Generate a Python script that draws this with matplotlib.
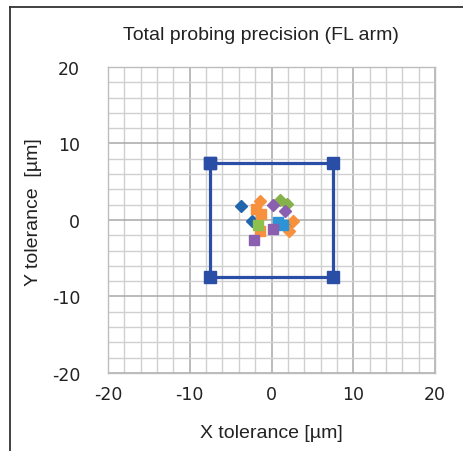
import numpy as np
import matplotlib
matplotlib.use("Agg")
import matplotlib.pyplot as plt
from matplotlib.lines import Line2D

plt.rcParams['axes.unicode_minus'] = False

# tolerance frame (square)
frame_x = [-7.5, 7.5, 7.5, -7.5, -7.5]
frame_y = [7.5, 7.5, -7.5, -7.5, 7.5]

# probing results, grouped by series
series = [
    # (x values, y values, marker, colour)
    ([-3.7, -2.4, 1.8], [1.8, -0.1, -0.8], 'D', '#2166ad'),
    ([-1.9, -1.3, -1.4], [1.5, 0.8, -1.4], 's', '#f7913d'),
    ([-1.6], [-0.6], 's', '#8dc04c'),
    ([1.0, 1.9], [2.6, 2.1], 'D', '#86b04a'),
    ([0.2, 1.6], [2.0, 1.2], 'D', '#8a5fb0'),
    ([-1.4, 2.6, 2.2], [2.5, -0.1, -1.4], 'D', '#f7913d'),
    ([0.8, 1.4], [-0.2, -0.6], 's', '#2b93d6'),
    ([0.2, -2.2], [-1.2, -2.6], 's', '#8a5fb0'),
]

fig = plt.figure(figsize=(4.63, 4.52), dpi=100)
ax = fig.add_axes([0.2333, 0.1726, 0.7062, 0.677])

ax.set_xlim(-20, 20)
ax.set_ylim(-20, 20)
ax.set_xticks(np.arange(-20, 21, 10))
ax.set_yticks(np.arange(-20, 21, 10))
ax.set_xticks(np.arange(-20, 21, 2), minor=True)
ax.set_yticks(np.arange(-20, 21, 2), minor=True)
ax.grid(True, which='minor', color='#d0d0d0', lw=1.0)
ax.grid(True, which='major', color='#a8a8a8', lw=1.1)
ax.set_axisbelow(True)
for s in ax.spines.values():
    s.set_color('#bdbdbd')
    s.set_linewidth(1.0)
ax.tick_params(which='both', length=0)
ax.tick_params(axis='x', pad=9, labelsize=12.5, labelcolor='#222222')
ax.tick_params(axis='y', pad=20, labelsize=12.5, labelcolor='#222222')

ax.plot(frame_x, frame_y, color='#2a4ea6', lw=2.3, marker='s', ms=8, zorder=3)

for xs, ys, m, c in series:
    ax.plot(xs, ys, ls='none', marker=m, ms=7 if m == 's' else 6.3, color=c,
            mec=c, zorder=4)

lab_font = dict(family='Liberation Sans', size=14, color='#222222')
ax.set_title('Total probing precision (FL arm)', pad=20, x=0.468, **lab_font)
ax.set_xlabel('X tolerance [µm]', labelpad=15, **lab_font)
ax.set_ylabel('Y tolerance  [µm]', **lab_font)
ax.yaxis.set_label_coords(-0.202, 0.53)

# outer border (only left and top visible)
fig.add_artist(Line2D([10 / 463, 10 / 463], [0, 1 - 8 / 452], color='#333333', lw=1.3))
fig.add_artist(Line2D([10 / 463, 1], [1 - 8 / 452, 1 - 8 / 452], color='#333333', lw=1.3))

fig.savefig('out.png', dpi=100)
